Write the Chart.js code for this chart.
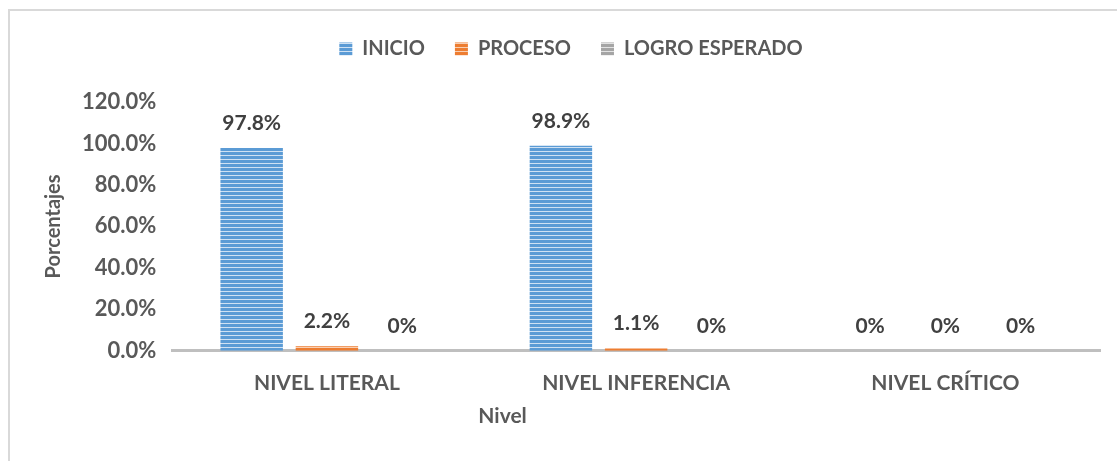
<!DOCTYPE html>
<html>
<head>
<meta charset="utf-8">
<script src="https://cdn.jsdelivr.net/npm/chart.js@4.4.1/dist/chart.umd.min.js"></script>
<style>
  html, body { margin: 0; padding: 0; background: #fff; overflow: hidden; }
  #frame {
    position: absolute; left: 8px; top: 9px;
    width: 1130px; height: 480px;
    border: 2px solid #d9d9d9;
  }
  #wrap { position: absolute; left: 0; top: 0; width: 1117px; height: 461px; }
</style>
</head>
<body>
<div id="frame"></div>
<div id="wrap"><canvas id="chart"></canvas></div>
<script>
// === Data ===
const niveles = ['NIVEL LITERAL', 'NIVEL INFERENCIA', 'NIVEL CRÍTICO'];
const inicio = [97.8, 98.9, 0];
const proceso = [2.2, 1.1, 0];
const logroEsperado = [0, 0, 0];
const yTicks = [0, 20, 40, 60, 80, 100, 120];

const FONT = 'Lato, "Open Sans", sans-serif';
const W = 'bold';

// striped fill like the Excel pattern
function stripes(base, line) {
  const c = document.createElement('canvas');
  c.width = 4; c.height = 4;
  const g = c.getContext('2d');
  g.fillStyle = base; g.fillRect(0, 0, 4, 4);
  g.fillStyle = line; g.fillRect(0, 3, 4, 1);
  return g.createPattern(c, 'repeat');
}
const ctx = document.getElementById('chart').getContext('2d');
const blue = stripes('#5b9bd5', '#cfe1f3');
const orange = stripes('#ed7d31', '#f8cfb3');
const gray = stripes('#a5a5a5', '#e2e2e2');

// data labels above each bar
const barLabels = {
  id: 'barLabels',
  afterDatasetsDraw(chart) {
    const c = chart.ctx;
    c.save();
    c.font = W + ' 21px ' + FONT;
    c.fillStyle = '#404040';
    c.textAlign = 'center';
    c.textBaseline = 'middle';
    chart.data.datasets.forEach((ds, i) => {
      chart.getDatasetMeta(i).data.forEach((el, j) => {
        const v = ds.data[j];
        const txt = v === 0 ? '0%' : v.toFixed(1) + '%';
        c.fillText(txt, el.x, el.y - 25);
      });
    });
    c.restore();
  }
};

// extra room under the legend
const legendGap = {
  id: 'legendGap',
  beforeInit(chart) {
    const fit = chart.legend.fit;
    chart.legend.fit = function () {
      fit.bind(chart.legend)();
      this.height += 33;
    };
  }
};

// x axis title sits left of center in the original
const xTitle = {
  id: 'xTitle',
  afterDraw(chart) {
    const a = chart.chartArea;
    const c = chart.ctx;
    c.save();
    c.font = W + ' 21px ' + FONT;
    c.fillStyle = '#595959';
    c.textAlign = 'center';
    c.textBaseline = 'middle';
    c.fillText('Nivel', a.left + (a.right - a.left) * 0.356, a.bottom + 65);
    c.restore();
  }
};

new Chart(ctx, {
  type: 'bar',
  data: {
    labels: niveles,
    datasets: [
      { label: 'INICIO', data: inicio, backgroundColor: blue },
      { label: 'PROCESO', data: proceso, backgroundColor: orange },
      { label: 'LOGRO ESPERADO', data: logroEsperado, backgroundColor: gray }
    ]
  },
  options: {
    responsive: true,
    maintainAspectRatio: false,
    animation: false,
    datasets: { bar: { categoryPercentage: 0.73, barPercentage: 0.83 } },
    layout: { padding: { top: 9, right: 17, bottom: 45, left: 42 } },
    plugins: {
      legend: {
        position: 'top',
        labels: {
          boxWidth: 13, boxHeight: 13, padding: 30,
          color: '#595959',
          font: { family: FONT, size: 20, weight: W }
        }
      },
      tooltip: { enabled: false }
    },
    scales: {
      x: {
        grid: { display: false, drawTicks: false },
        border: { color: '#bfbfbf', width: 3 },
        ticks: {
          padding: 20,
          color: '#595959',
          font: { family: FONT, size: 21, weight: W }
        }
      },
      y: {
        min: 0, max: 120,
        afterBuildTicks: s => { s.ticks = yTicks.map(v => ({ value: v })); },
        grid: { display: false, drawTicks: false },
        border: { display: false },
        title: {
          display: true, text: 'Porcentajes', color: '#595959', padding: 0,
          font: { family: FONT, size: 20, weight: W }
        },
        ticks: {
          padding: 16,
          color: '#595959',
          font: { family: FONT, size: 22, weight: W },
          callback: v => v.toFixed(1) + '%'
        }
      }
    }
  },
  plugins: [barLabels, legendGap, xTitle]
});
</script>
</body>
</html>
